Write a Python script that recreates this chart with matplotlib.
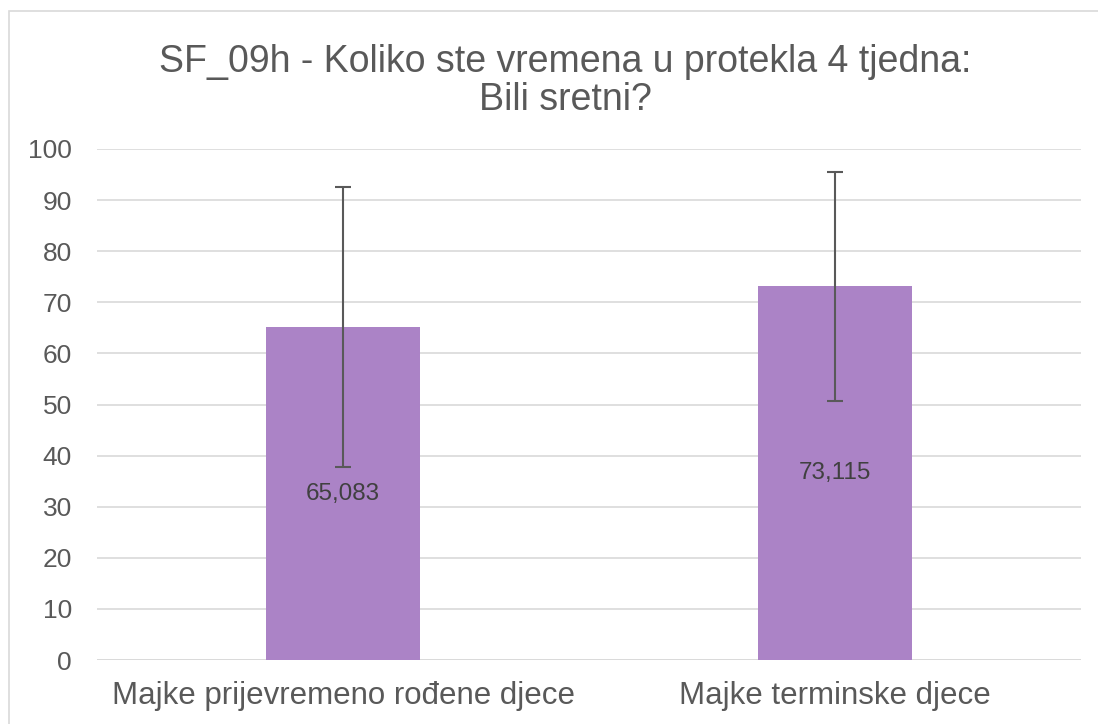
import matplotlib.pyplot as plt
from matplotlib.patches import Rectangle

# Data
categories = ["Majke prijevremeno rođene djece", "Majke terminske djece"]
means = [65.083, 73.115]
sds = [27.4, 22.4]
labels = ["65,083", "73,115"]

plt.rcParams['font.family'] = ['Liberation Sans', 'DejaVu Sans']
text_col = '#595959'

fig = plt.figure(figsize=(10.98, 7.24), dpi=100)
ax = fig.add_axes([97 / 1098, 1 - 660 / 724, (1081 - 97) / 1098, (660 - 149) / 724])

# outer chart border
fig.patches.append(Rectangle((9 / 1098, -0.1), 1.2, 1 - 11 / 724 + 0.1,
                             transform=fig.transFigure, fill=False,
                             edgecolor='#D9D9D9', linewidth=1.2))

x = range(len(categories))
ax.bar(x, means, width=0.313, color='#AB83C6', zorder=2)
ax.errorbar(x, means, yerr=sds, fmt='none', ecolor='#595959',
            elinewidth=1.5, capsize=6, capthick=1.5, zorder=3)

for i, (m, lab) in enumerate(zip(means, labels)):
    ax.text(i, m / 2, lab, ha='center', va='center', fontsize=17.5, color='#404040', zorder=4)

ax.set_xlim(-0.5, 1.5)
ax.set_ylim(0, 100)
ax.set_yticks(range(0, 101, 10))
ax.set_xticks(list(x))
ax.set_xticklabels(categories, fontsize=22.5, color=text_col)
ax.tick_params(axis='y', labelsize=19, labelcolor=text_col, length=0, pad=18)
ax.tick_params(axis='x', length=0, pad=15)
ax.grid(axis='y', color='#D9D9D9', linewidth=1.2, zorder=0)
for s in ax.spines.values():
    s.set_visible(False)
ax.axhline(0, color='#D9D9D9', linewidth=1.2, zorder=1)

fig.text(565 / 1098, 1 - 81 / 724, "SF_09h - Koliko ste vremena u protekla 4 tjedna:\nBili sretni?",
         ha='center', va='center', fontsize=27, color=text_col, linespacing=1.08)

fig.savefig("out.png", dpi=100)
